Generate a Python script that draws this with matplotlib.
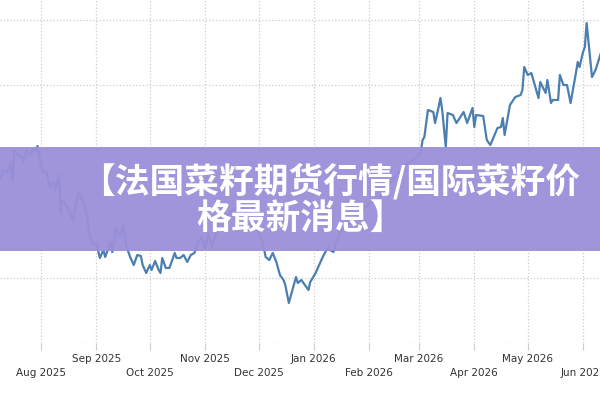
import matplotlib
matplotlib.use("Agg")
import matplotlib.pyplot as plt
import pandas as pd
from matplotlib.patches import Rectangle

start = "2025-07-09"
day_offsets = [0,2,4,6,7,8,10,12,13,15,17,19,20,21,22,24,26,28,30,31,33,34,35,37,39,41,44,47,49,50,52,54,56,58,59,62,63,65,67,69,71,73,75,77,79,80,82,84,85,87,89,90,91,93,95,98,99,101,103,105,107,109,111,113,115,117,119,121,122,125,127,129,131,134,136,140,143,147,149,151,153,155,157,159,160,162,164,166,167,169,171,173,174,177,179,181,184,185,187,189,191,196,202,208,212,216,220,224,227,230,232,234,236,237,238,240,243,244,246,247,248,250,251,254,256,260,262,265,266,267,271,273,275,279,281,282,283,286,289,292,293,294,296,298,302,303,306,307,309,310,313,314,316,318,320,323,324,325,327,328,329,332,334,337]
prices = [220,230,228,237,219,250,245,243,238,250,245,252,248,254,243,228,228,213,218,210,225,187,200,195,188,180,207,197,182,167,155,157,142,150,143,158,148,172,163,175,153,143,135,145,144,135,127,135,130,139,130,127,142,132,132,147,142,142,145,138,145,147,157,163,152,166,153,165,178,192,182,188,190,195,190,187,175,160,143,140,147,138,125,120,115,97,110,123,117,120,115,110,118,127,135,143,153,150,148,160,168,178,188,198,200,210,220,228,235,238,240,243,248,260,263,290,288,277,293,302,290,253,287,285,277,288,277,292,273,285,284,260,255,272,273,282,265,295,303,305,310,333,325,327,302,318,307,320,297,300,300,325,315,315,297,327,338,333,348,353,377,323,330,347]

month_ticks = pd.date_range("2025-07-01", "2026-06-01", freq="MS")
month_labels = [d.strftime("%b %Y") for d in month_ticks]
grid_levels = [57, 122, 186, 251, 315, 380]

dates = pd.Timestamp(start) + pd.to_timedelta(day_offsets, unit="D")

plt.rcParams['font.family'] = ['DejaVu Sans']
fig = plt.figure(figsize=(6, 4), dpi=100)
ax = fig.add_axes([0, 0.1425, 1, 0.8575])
ax.plot(dates, prices, color="#4a7fb0", lw=1.6)
ax.set_yticks(grid_levels)
ax.set_yticklabels([])
ax.tick_params(axis="y", length=0)
ax.set_xticks(month_ticks)
ax.set_xticklabels([l if i % 2 == 0 else "\n" + l for i, l in enumerate(month_labels)],
                   fontsize=7.5, color="#333333", linespacing=1.5)
ax.set_xlim(pd.Timestamp(start), pd.Timestamp(start) + pd.Timedelta(days=336.5))
ax.set_ylim(57, 400)
ax.tick_params(axis="x", length=5, color="#cccccc", pad=3)
ax.grid(True, color="#cccccc", linestyle=":", lw=0.9)
for s in ax.spines.values():
    s.set_visible(False)

fig.patches.append(Rectangle((0, 1 - 251/400), 1, 104/400, transform=fig.transFigure,
                             facecolor="#9b8fd9", alpha=0.95, edgecolor="none", zorder=5))
cjk = ["Noto Sans CJK SC", "DejaVu Sans"]
fig.text(0.55, 1 - 181/400, "【法国菜籽期货行情/国际菜籽价", ha="center", va="center",
         fontsize=25, fontweight="heavy", color="white", family=cjk, zorder=6)
fig.text(0.5, 1 - 218/400, "格最新消息】", ha="center", va="center",
         fontsize=25, fontweight="heavy", color="white", family=cjk, zorder=6)
fig.savefig("out.png", dpi=100)
